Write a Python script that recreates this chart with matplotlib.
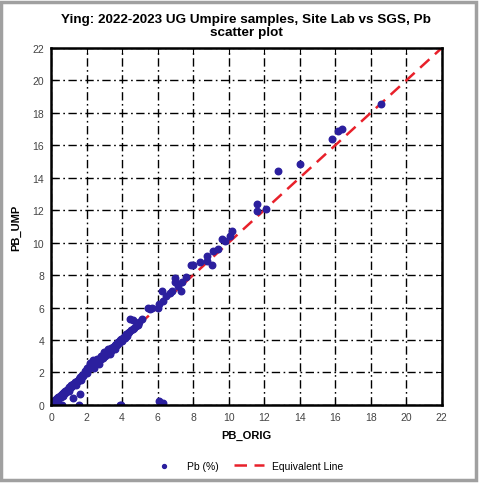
import matplotlib
matplotlib.use('Agg')
import matplotlib.pyplot as plt
from matplotlib.patches import Rectangle

# Pb assays: site lab (PB_ORIG) vs umpire lab (PB_UMP)
pb_orig = [0.0, 0.02, 0.05, 0.08, 0.1, 0.12, 0.15, 0.18, 0.2, 0.22, 0.25, 0.28, 0.3, 0.33, 0.35,
           0.38, 0.4, 0.42, 0.45, 0.48, 0.5, 0.55, 0.58, 0.6, 0.65, 0.68, 0.7, 0.75, 0.78, 0.8,
           0.85, 0.88, 0.9, 0.95, 0.98, 1.0, 1.05, 1.1, 1.12, 1.15, 1.2, 1.25, 1.3, 1.35, 1.4,
           1.45, 1.5, 1.55, 1.6, 1.65, 1.7, 1.75, 1.8, 1.85, 1.9, 1.95, 2.0, 2.05, 2.1, 2.15,
           2.2, 2.25, 2.3, 2.35, 2.4, 2.45, 2.5, 2.55, 2.6, 2.65, 2.7, 2.75, 2.8, 2.85, 2.9,
           2.95, 3.0, 3.05, 3.1, 3.15, 3.2, 3.25, 3.3, 3.35, 3.4, 3.45, 3.5, 3.55, 3.6, 3.65,
           3.7, 3.75, 3.8, 3.85, 3.9, 3.95, 4.0, 4.05, 4.1, 4.15, 4.2, 4.25, 4.3, 4.35, 4.4,
           4.5, 4.6, 4.7, 4.8, 4.9, 2.2, 2.35, 2.0, 1.9, 2.6, 2.8, 3.0, 3.2,
           0.3, 0.7, 1.0, 1.4, 1.7, 2.4, 2.7, 3.3, 3.6,
           0.6, 1.56, 3.9, 3.95, 1.24, 1.63, 6.1, 6.3,
           4.45, 4.6, 4.95, 5.1, 4.9, 5.45, 5.6, 5.7, 6.0, 6.1, 6.25, 6.3, 6.5, 6.7, 6.8,
           7.0, 7.15, 7.3, 7.4, 7.0, 7.6, 7.9, 8.0, 8.4, 8.8, 9.05, 8.8, 9.1, 9.4, 9.6, 9.8,
           10.1, 10.2, 11.6, 11.6, 12.1, 12.8, 14.0, 15.8, 16.15, 16.4, 18.57]
pb_ump = [0.0, 0.03, 0.02, 0.1, 0.05, 0.15, 0.12, 0.2, 0.28, 0.18, 0.3, 0.22, 0.35, 0.4, 0.3,
          0.45, 0.38, 0.5, 0.42, 0.55, 0.48, 0.6, 0.52, 0.68, 0.62, 0.75, 0.7, 0.8, 0.72, 0.88,
          0.82, 0.95, 0.9, 1.0, 0.95, 1.08, 1.02, 1.15, 1.1, 1.25, 1.18, 1.3, 1.28, 1.42, 1.38,
          1.5, 1.45, 1.62, 1.58, 1.7, 1.65, 1.82, 1.78, 1.9, 1.95, 2.05, 1.98, 2.12, 2.2, 2.3,
          2.45, 2.35, 2.55, 2.4, 2.6, 2.7, 2.52, 2.75, 2.65, 2.8, 2.72, 2.9, 2.85, 2.95, 2.88,
          3.05, 3.1, 3.0, 3.2, 3.3, 3.15, 3.35, 3.4, 3.3, 3.5, 3.45, 3.6, 3.55, 3.7, 3.75,
          3.68, 3.85, 3.9, 3.8, 4.0, 4.05, 3.95, 4.12, 4.2, 4.1, 4.3, 4.35, 4.25, 4.45, 4.5,
          4.6, 4.65, 4.75, 4.85, 4.95, 2.6, 2.75, 2.3, 2.1, 2.85, 3.0, 3.25, 3.45,
          0.2, 0.55, 0.85, 1.25, 1.55, 2.25, 2.55, 3.15, 3.45,
          0.0, 0.0, 0.0, 0.0, 0.43, 0.68, 0.25, 0.1,
          5.3, 5.25, 5.1, 5.3, 5.0, 6.0, 5.9, 6.0, 6.0, 6.2, 7.0, 6.4, 6.7, 6.9, 7.0,
          7.6, 7.3, 7.0, 7.6, 7.8, 7.9, 8.6, 8.6, 8.8, 8.9, 8.6, 9.2, 9.5, 9.6, 10.2, 10.1,
          10.4, 10.7, 12.4, 11.95, 12.1, 14.4, 14.85, 16.4, 16.9, 17.0, 18.55]
equiv = [0, 22]
ticks = list(range(0, 23, 2))

plt.rcParams['font.family'] = ['Liberation Sans', 'DejaVu Sans']

fig = plt.figure(figsize=(4.83, 4.85), dpi=100)
ax = fig.add_axes([0.1056, 0.163, 0.809, 0.736])

# outer frame around the whole picture
fig.patches.append(Rectangle((0.003, 0.008), 0.982, 0.986, transform=fig.transFigure,
                             fill=False, edgecolor='#a0a0a0', linewidth=2.5))

ax.scatter(pb_orig, pb_ump, s=22, color='#2b1f9e', zorder=4, label='Pb (%)')
ax.plot(equiv, equiv, color='#e8202a', linewidth=1.8, dashes=(5, 3), zorder=3,
        label='Equivalent Line')

ax.set_xlim(0, 22)
ax.set_ylim(0, 22)
ax.set_xticks(ticks)
ax.set_yticks(ticks)
ax.grid(True, color='black', linewidth=1.0, linestyle=(0, (6, 2.5, 1.2, 2.5)))
ax.set_axisbelow(True)
ax.tick_params(direction='in', length=4, labelsize=7.5, labelcolor='#444444',
               top=True, right=True, pad=5)
for sp in ax.spines.values():
    sp.set_linewidth(1.8)
    sp.set_zorder(5)

ax.set_xlabel('PB_ORIG', fontsize=8, fontweight='bold', labelpad=6)
ax.set_ylabel('PB_UMP', fontsize=8, fontweight='bold', labelpad=8)
fig.text(0.51, 0.945, 'Ying: 2022-2023 UG Umpire samples, Site Lab vs SGS, Pb\nscatter plot',
         ha='center', va='center', fontsize=9.7, fontweight='bold', linespacing=1.1)

fig.legend(loc='center', bbox_to_anchor=(0.51, 0.037), ncol=2, frameon=False,
           fontsize=7.5, handlelength=2.8, columnspacing=1.5, markerscale=0.6)

fig.savefig('out.png', dpi=100)
